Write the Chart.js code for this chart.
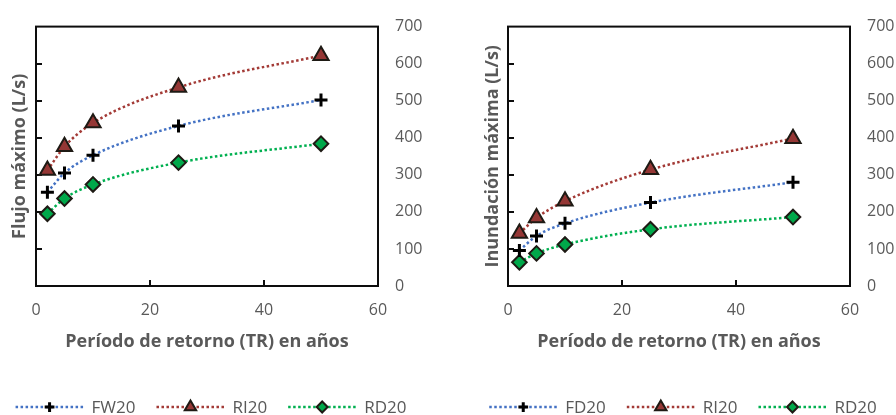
<!DOCTYPE html>
<html>
<head>
<meta charset="utf-8">
<script src="https://cdn.jsdelivr.net/npm/chart.js@4"></script>
<style>
  html, body { margin: 0; padding: 0; background: #fff; }
  #wrap { position: relative; width: 896px; height: 415px; overflow: hidden; }
  .cell { position: absolute; top: 0; width: 448px; height: 415px; }
  #c1 { left: 0; } #c2 { left: 448px; }
</style>
</head>
<body>
<div id="wrap">
  <div class="cell" id="c1"><canvas id="chart1" width="448" height="415"></canvas></div>
  <div class="cell" id="c2"><canvas id="chart2" width="448" height="415"></canvas></div>
</div>
<script>
// ---- Data ----
const periods = [2, 5, 10, 25, 50];
const xTicks = [0, 20, 40, 60];
const yTicks = [0, 100, 200, 300, 400, 500, 600, 700];

// Left chart: Flujo máximo (L/s)
const leftSeriesNames = ['FW20', 'RI20', 'RD20'];
const leftFW20 = [253, 305, 353, 432, 502];
const leftRI20 = [312, 376, 440, 536, 622];
const leftRD20 = [195, 236, 274, 333, 384];

// Right chart: Inundación máxima (L/s)
const rightSeriesNames = ['FD20', 'RI20', 'RD20'];
const rightFD20 = [96, 135, 169, 225, 280];
const rightRI20 = [142, 184, 229, 314, 398];
const rightRD20 = [64, 88, 112, 153, 186];

const xTitle = 'Período de retorno (TR) en años';
const leftYTitle = 'Flujo máximo (L/s)';
const rightYTitle = 'Inundación máxima (L/s)';

// ---- Styles ----
const FONT = '"Open Sans", "Noto Sans", sans-serif';
const TEXT = '#595959';
const styles = [
  { line: '#4472C4', fill: '#000000', border: '#000000', pointStyle: 'cross', radius: 6.5, bw: 3 },
  { line: '#A33A36', fill: '#953735', border: '#1E1A14', pointStyle: 'triangle', radius: 8.8, bw: 2 },
  { line: '#00B050', fill: '#00A84A', border: '#1E1A14', pointStyle: 'rectRot', radius: 7.3, bw: 2 }
];

function makeDatasets(names, series) {
  return series.map((vals, i) => {
    const s = styles[i];
    return {
      label: names[i],
      data: periods.map((p, k) => ({ x: p, y: vals[k] })),
      borderColor: s.line,
      borderWidth: 2.5,
      borderDash: [2.5, 2.5],
      borderCapStyle: 'butt',
      cubicInterpolationMode: 'monotone',
      pointStyle: s.pointStyle,
      pointRadius: s.radius,
      pointHoverRadius: s.radius,
      pointBackgroundColor: s.fill,
      pointBorderColor: s.border,
      pointBorderWidth: s.bw,
      fill: false,
      _legendStyle: s
    };
  });
}

const framePlugin = {
  id: 'frame',
  beforeDatasetsDraw(chart) {
    const { ctx, chartArea: a, scales } = chart;
    ctx.save();
    ctx.strokeStyle = '#0d0d0d';
    ctx.lineWidth = 2;
    ctx.setLineDash([]);
    ctx.strokeRect(a.left, a.top, a.right - a.left, a.bottom - a.top);
    ctx.beginPath();
    scales.y.ticks.forEach(t => {
      if (t.value <= scales.y.min || t.value >= scales.y.max) return;
      const py = Math.round(scales.y.getPixelForValue(t.value));
      ctx.moveTo(a.left, py); ctx.lineTo(a.left + 6, py);
    });
    scales.x.ticks.forEach(t => {
      if (t.value <= scales.x.min || t.value >= scales.x.max) return;
      const px = Math.round(scales.x.getPixelForValue(t.value));
      ctx.moveTo(px, a.bottom); ctx.lineTo(px, a.bottom - 6);
    });
    ctx.stroke();
    ctx.restore();
  }
};

const legendPlugin = {
  id: 'lineLegend',
  afterDraw(chart, args, opts) {
    const { ctx, chartArea: a } = chart;
    const sampleW = 68, gapText = 8, gapItem = 21;
    ctx.save();
    ctx.font = '17px ' + FONT;
    const items = chart.data.datasets.map(ds => ({ ds, w: ctx.measureText(ds.label).width }));
    const total = items.reduce((s, it) => s + sampleW + gapText + it.w, 0) + gapItem * (items.length - 1);
    let x = (a.left + a.right) / 2 + opts.shift - total / 2;
    const y = opts.y;
    items.forEach(it => {
      const s = it.ds._legendStyle;
      ctx.save();
      ctx.strokeStyle = s.line;
      ctx.lineWidth = 2.5;
      ctx.setLineDash([2.5, 2.5]);
      ctx.beginPath();
      ctx.moveTo(x, y); ctx.lineTo(x + sampleW, y);
      ctx.stroke();
      ctx.setLineDash([]);
      ctx.fillStyle = s.fill;
      ctx.strokeStyle = s.border;
      ctx.lineWidth = s.bw;
      Chart.helpers.drawPoint(ctx, { pointStyle: s.pointStyle, radius: s.radius * 0.75, rotation: 0, borderWidth: s.bw }, x + sampleW / 2, y);
      ctx.restore();
      ctx.fillStyle = TEXT;
      ctx.textBaseline = 'middle';
      ctx.textAlign = 'left';
      ctx.fillText(it.ds.label, x + sampleW + gapText, y + 1);
      x += sampleW + gapText + it.w + gapItem;
    });
    ctx.restore();
  }
};

function makeChart(id, names, series, yTitle, leftW, rightW, yTitlePad) {
  return new Chart(document.getElementById(id), {
    type: 'line',
    data: { datasets: makeDatasets(names, series) },
    plugins: [framePlugin, legendPlugin],
    options: {
      responsive: false,
      animation: false,
      devicePixelRatio: 1,
      layout: { padding: { top: 19, left: 0, right: 0, bottom: 0 } },
      plugins: {
        legend: { display: false },
        tooltip: { enabled: false },
        lineLegend: { y: 407, shift: 4 }
      },
      scales: {
        x: {
          type: 'linear', min: xTicks[0], max: xTicks[xTicks.length - 1],
          afterBuildTicks: s => { s.ticks = xTicks.map(v => ({ value: v })); },
          grid: { display: false, drawTicks: false }, border: { display: false },
          ticks: { color: TEXT, font: { family: FONT, size: 16 }, padding: 15, maxRotation: 0 },
          title: { display: true, text: xTitle, color: TEXT, font: { family: FONT, size: 18, weight: 'bold' }, padding: { top: 0, bottom: 62 } },
          afterFit: s => { s.height = 129; }
        },
        y: {
          type: 'linear', position: 'left', min: yTicks[0], max: yTicks[yTicks.length - 1],
          afterBuildTicks: s => { s.ticks = yTicks.map(v => ({ value: v })); },
          grid: { display: false, drawTicks: false }, border: { display: false },
          ticks: { display: false },
          title: { display: true, text: yTitle, color: TEXT, font: { family: FONT, size: 18, weight: 'bold' }, padding: { top: yTitlePad, bottom: 0 } },
          afterFit: s => { s.width = leftW; }
        },
        y2: {
          type: 'linear', position: 'right', min: yTicks[0], max: yTicks[yTicks.length - 1],
          afterBuildTicks: s => { s.ticks = yTicks.map(v => ({ value: v })); },
          grid: { display: false, drawTicks: false }, border: { display: false },
          ticks: { color: TEXT, font: { family: FONT, size: 16 }, padding: 17 },
          afterFit: s => { s.width = rightW; }
        }
      }
    }
  });
}

makeChart('chart1', leftSeriesNames, [leftFW20, leftRI20, leftRD20], leftYTitle, 36, 70, 9);
makeChart('chart2', rightSeriesNames, [rightFD20, rightRI20, rightRD20], rightYTitle, 60, 46, 34);
</script>
</body>
</html>
